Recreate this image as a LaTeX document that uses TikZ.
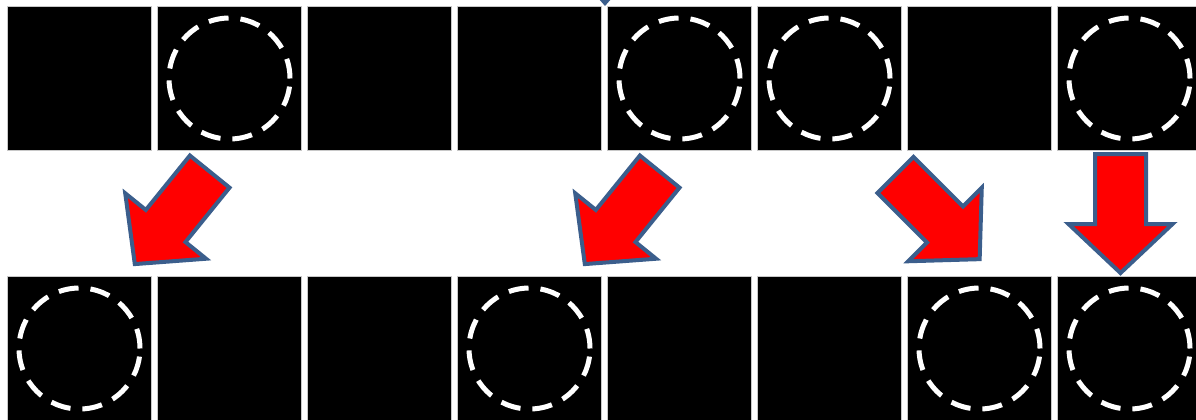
\documentclass[tikz,border=0pt]{standalone}
\usetikzlibrary{calc}
\definecolor{arrred}{HTML}{FF0000}
\definecolor{arrblue}{HTML}{3B5E8C}
\definecolor{cellgray}{HTML}{C8C8C8}

\begin{document}
\begin{tikzpicture}[x=1pt,y=-1pt,
  cell/.style={draw=cellgray,line width=1pt,fill=black,minimum size=144pt,inner sep=0pt},
  ring/.style={circle,draw=white,line width=5pt,dash pattern=on 20pt off 12pt,
    minimum size=121pt,inner sep=0pt},
  barr/.style={draw=arrblue,fill=arrred,line width=4pt,miter limit=10},
  blockarr/.pic={\draw[barr] (-25.5,0) -- (25.5,0) -- (25.5,70) -- (52,70) -- (0,119)
    -- (-52,70) -- (-25.5,70) -- cycle;}]
  \useasboundingbox (0,0) rectangle (1196,420);
  % two rows of cells
  \foreach \i in {1,...,8} {
    \node[cell] (t\i) at ({79.5+150*(\i-1)},78.5) {};
    \node[cell] (b\i) at ({79.5+150*(\i-1)},348.5) {};
  }
  % marked cells
  \foreach \c in {2,5,6,8} \node[ring] (rt\c) at (t\c) {};
  \foreach \c in {1,4,7,8} \node[ring] (rb\c) at (b\c) {};
  % tip coming in from above
  \fill[arrblue] (598,-2) -- (612,-2) -- (605,6) -- cycle;
  % moves
  \pic[rotate=-39] (mv1) at ($(t2.south)+(-19.8,20.6)$) {blockarr};
  \pic[rotate=-39] (mv2) at ($(t5.south)+(-19.8,20.6)$) {blockarr};
  \pic[rotate=45] (mv3) at ($(t6.south)+(66,24)$) {blockarr};
  \pic (mv4) at ($(t8.south)+(-9,3)$) {blockarr};
\end{tikzpicture}
\end{document}
